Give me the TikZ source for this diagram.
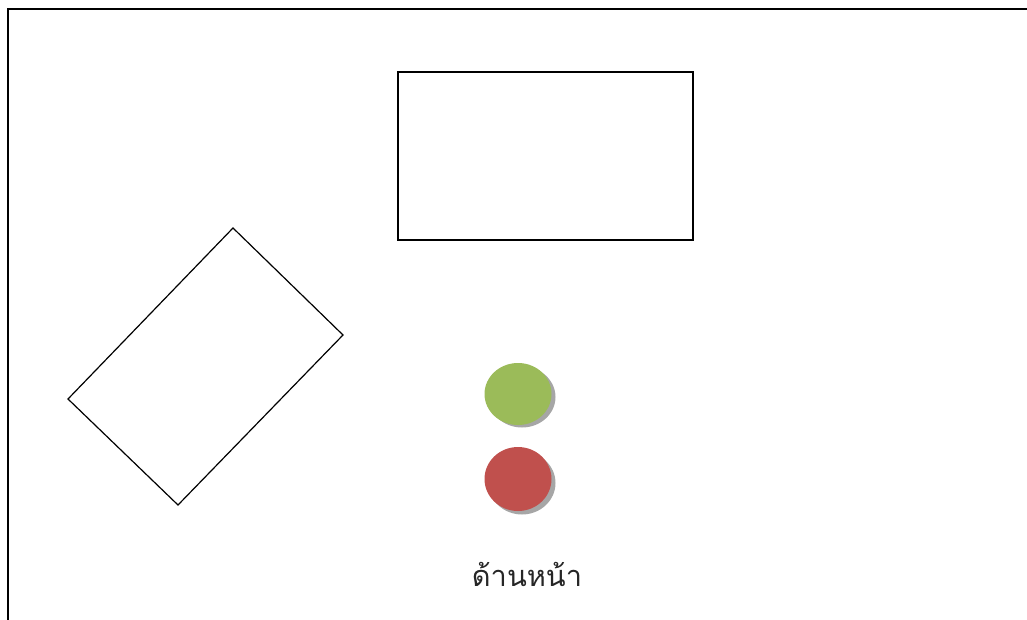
\documentclass[tikz,border=0pt]{standalone}
\usepackage{fontspec}
\newfontfamily\thaifont[Script=Thai]{Loma}
\begin{document}
\begin{tikzpicture}[x=1pt,y=-1pt,
  outline/.style={draw=black,line width=1.2pt},
]
\useasboundingbox (0,0) rectangle (1027,620);
\draw[line width=2.2pt] (8,620) -- (8,9) -- (1027,9);
\draw[outline] (398,72) rectangle (693,240);
\draw[outline] (233,228) -- (343,335) -- (178,505) -- (68,399) -- cycle;
\fill[gray!70] (522,397) ellipse (33.5 and 30.5);
\fill[fill={rgb,255:red,155;green,187;blue,89}] (518,394) ellipse (33.5 and 31);
\fill[gray!70] (522,483) ellipse (33.5 and 31.5);
\fill[fill={rgb,255:red,192;green,80;blue,77}] (518,479) ellipse (33.5 and 32);
\node[font=\thaifont\fontsize{29}{34}\selectfont,anchor=base,text=black!85] (front) at (527,586) {ด้านหน้า};
\end{tikzpicture}
\end{document}
